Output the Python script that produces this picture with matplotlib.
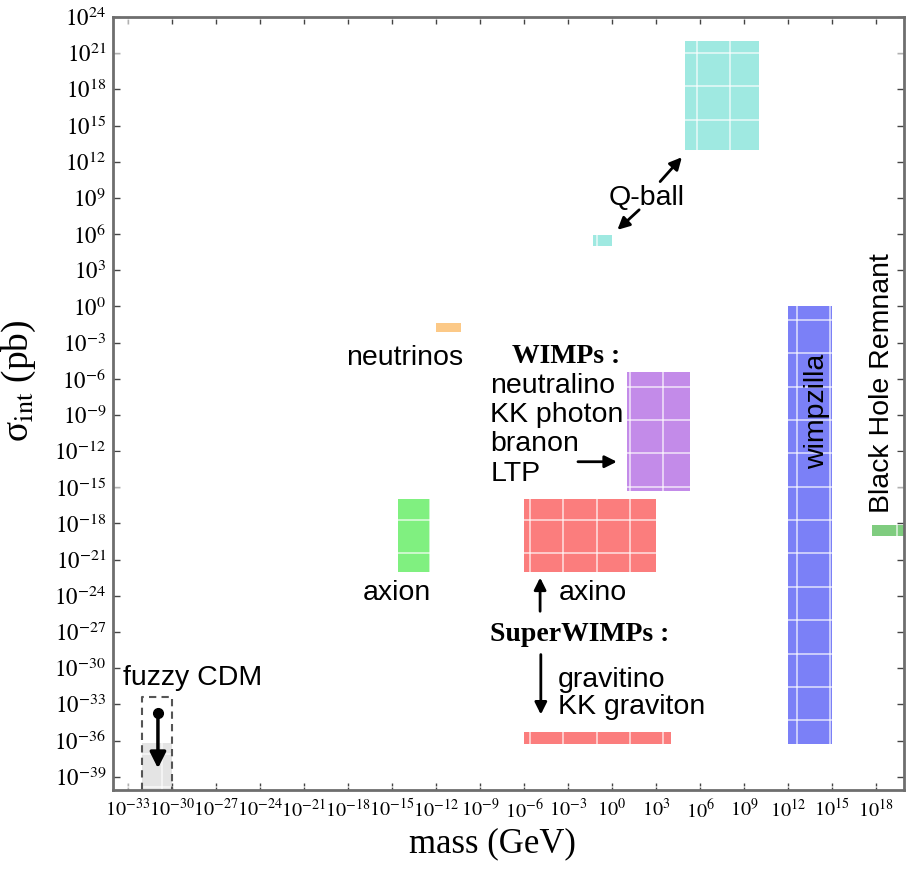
import numpy as np
import matplotlib
matplotlib.use('Agg')
import matplotlib.pyplot as plt
from matplotlib.ticker import FixedLocator, FuncFormatter, NullFormatter

# ---------------- data (exponents of 10) ----------------
categories = ['Q-ball', 'Q-ball (low)', 'neutrinos', 'WIMPs', 'axino', 'axion',
              'gravitino / KK graviton', 'wimpzilla', 'Black Hole Remnant', 'fuzzy CDM']
mass_lo = [5.0, -1.3, -12.0, 1.0, -6.0, -14.6, -6.0, 12.0, 17.7, -32.0]
mass_hi = [10.0, 0.0, -10.3, 5.3, 3.0, -12.4, 4.0, 15.0, 20.5, -30.0]
sig_lo = [13.0, 5.0, -2.1, -15.3, -22.0, -22.0, -36.3, -36.3, -19.0, -41.0]
sig_hi = [22.0, 5.9, -1.4, -5.4, -16.0, -16.0, -35.3, 0.0, -18.1, -36.2]
colors = ['#9fe9e1', '#9fe9e1', '#fcc987', '#c38be9', '#fb7d7d', '#80f080',
          '#fb7d7d', '#7b80f7', '#7fcc7f', '#e4e4e4']

fuzzy_box_x = [-32.0, -30.0]
fuzzy_box_top = -32.4
fuzzy_arrow_x = -30.94
fuzzy_arrow_y = [-33.7, -38.3]

xtick_exp = list(range(-33, 19, 3))
ytick_exp = list(range(-39, 25, 3))

# text labels: (text, x_exp, y_exp, ha)
labels_sans = [
    ('Q-ball', -0.24, 8.42, 'left'),
    ('neutrinos', -10.14, -4.84, 'right'),
    ('neutralino', -8.30, -7.19, 'left'),
    ('KK photon', -8.30, -9.56, 'left'),
    ('branon', -8.30, -12.02, 'left'),
    ('LTP', -8.30, -14.51, 'left'),
    ('axion', -14.66, -24.37, 'center'),
    ('axino', -3.65, -24.37, 'left'),
    ('gravitino', -3.67, -31.55, 'left'),
    ('KK graviton', -3.67, -33.80, 'left'),
    ('fuzzy CDM', -33.31, -31.36, 'left'),
]
labels_bold = [
    ('WIMPs :', -6.80, -4.67),
    ('SuperWIMPs :', -8.30, -27.77),
]
# arrows: (tail_x, tail_y, head_x, head_y)
arrows = [
    (3.28, 10.35, 4.76, 12.37),
    (1.85, 8.01, 0.37, 6.35),
    (-2.32, -12.88, 0.33, -12.88),
    (-4.90, -25.28, -4.90, -22.49),
    (-4.85, -28.87, -4.85, -33.84),
]

# ---------------- figure ----------------
plt.rcParams['mathtext.fontset'] = 'stix'
plt.rcParams['font.family'] = ['Liberation Sans', 'DejaVu Sans']

fig = plt.figure(figsize=(9.13, 8.76), dpi=100)
ax = fig.add_axes([0.1238, 0.0982, 0.8664, 0.8824])
ax.set_xscale('log')
ax.set_yscale('log')
ax.set_xlim(1e-34, 10 ** 19.9)
ax.set_ylim(10 ** -40.1, 1e24)

for lo, hi, slo, shi, c in zip(mass_lo, mass_hi, sig_lo, sig_hi, colors):
    ax.fill_between([10 ** lo, 10 ** hi], 10 ** slo, 10 ** shi, color=c, lw=0, zorder=1)

# fuzzy CDM dashed box
bx0, bx1 = 10 ** fuzzy_box_x[0], 10 ** fuzzy_box_x[1]
ax.plot([bx0, bx0, bx1, bx1], [10 ** -40.1, 10 ** fuzzy_box_top, 10 ** fuzzy_box_top, 10 ** -40.1],
        ls=(0, (3.5, 2.5)), color='#555555', lw=1.5, zorder=3.2, clip_on=True)
ax.plot([10 ** fuzzy_arrow_x], [10 ** fuzzy_arrow_y[0]], 'o', color='k', ms=7, zorder=4)
ax.annotate('', xy=(10 ** fuzzy_arrow_x, 10 ** fuzzy_arrow_y[1]),
            xytext=(10 ** fuzzy_arrow_x, 10 ** fuzzy_arrow_y[0]),
            arrowprops=dict(arrowstyle='-|>', color='k', lw=2.5, mutation_scale=24,
                            shrinkA=0, shrinkB=0), zorder=4)

for tx, ty, hx, hy in arrows:
    ax.annotate('', xy=(10 ** hx, 10 ** hy), xytext=(10 ** tx, 10 ** ty),
                arrowprops=dict(arrowstyle='-|>', color='k', lw=2, mutation_scale=18,
                                shrinkA=0, shrinkB=0), zorder=4)

for t, x, y, ha in labels_sans:
    ax.text(10 ** x, 10 ** y, t, ha=ha, va='baseline', fontsize=20.5,
            family=['Liberation Sans', 'DejaVu Sans'], zorder=5)
for t, x, y in labels_bold:
    ax.text(10 ** x, 10 ** y, t, ha='left', va='baseline', fontsize=20,
            family=['Liberation Serif', 'DejaVu Serif'], fontweight='bold', zorder=5)

ax.text(10 ** 13.96, 10 ** -8.71, 'wimpzilla', rotation=90, ha='center', va='center',
        fontsize=20.5, zorder=5)
ax.text(10 ** 18.41, 10 ** -17.1, 'Black Hole Remnant', rotation=90, ha='center',
        va='bottom', fontsize=20.5, zorder=5)

# ticks
ax.xaxis.set_major_locator(FixedLocator([10.0 ** e for e in xtick_exp]))
ax.yaxis.set_major_locator(FixedLocator([10.0 ** e for e in ytick_exp]))
fmt = FuncFormatter(lambda v, p: r'$10^{%d}$' % int(round(np.log10(v))))
ax.xaxis.set_major_formatter(fmt)
ax.yaxis.set_major_formatter(fmt)

# white texture grid seen inside the coloured regions
gx = np.arange(-3.33 - 2.276 * 14, 21, 2.276)
gy = np.arange(-1.11 - 2.768 * 15, 25, 2.768)
ax.xaxis.set_minor_locator(FixedLocator(10.0 ** gx))
ax.yaxis.set_minor_locator(FixedLocator(10.0 ** gy))
ax.xaxis.set_minor_formatter(NullFormatter())
ax.yaxis.set_minor_formatter(NullFormatter())
ax.set_axisbelow(False)
ax.grid(which='minor', color='white', lw=1.2, alpha=0.7)
ax.grid(which='major', visible=False)

ax.tick_params(which='major', direction='in', length=5, width=1, top=True, right=True,
               pad=5, color='#444444')
ax.tick_params(axis='x', which='major', labelsize=14.5, pad=6)
ax.tick_params(axis='y', which='major', labelsize=16.5)
ax.tick_params(which='minor', length=0, top=True, right=True)

for s in ax.spines.values():
    s.set_linewidth(2)
    s.set_color('#6e6e6e')
    s.set_zorder(6)

ax.set_xlabel('mass (GeV)', fontsize=25, family=['Liberation Serif', 'DejaVu Serif'])
ax.set_ylabel('σ$_{\\mathrm{int}}$ (pb)', fontsize=27, family=['Liberation Serif', 'DejaVu Serif'])
ax.xaxis.set_label_coords(0.48, -0.048)
ax.yaxis.set_label_coords(-0.095, 0.53)

fig.savefig('out.png', dpi=100)
